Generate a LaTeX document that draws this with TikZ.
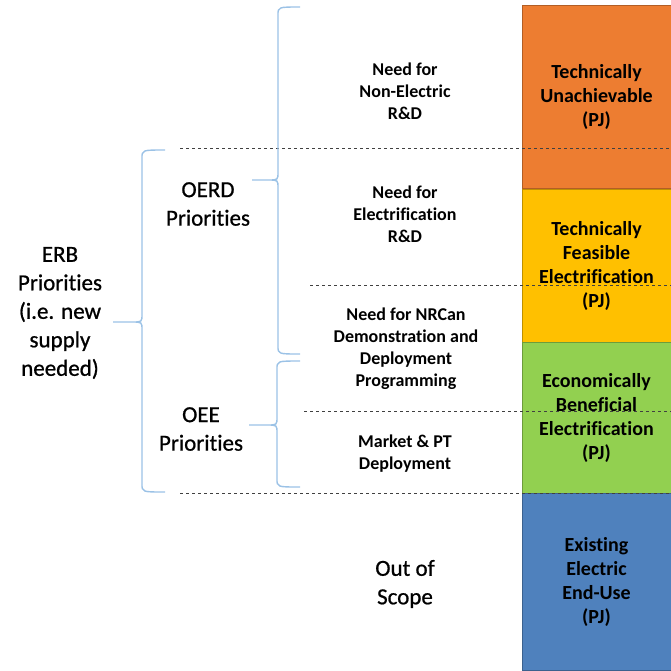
\documentclass[tikz,border=0pt]{standalone}
\usepackage{fontspec}
\setmainfont[Ligatures=NoCommon]{Carlito}
\newfontfamily\grpfont[Ligatures=NoCommon,FakeBold=0.8]{Carlito}
\usetikzlibrary{calc}
\definecolor{unach}{HTML}{ED7D31}
\definecolor{feasible}{HTML}{FFC000}
\definecolor{benefit}{HTML}{92D050}
\definecolor{existing}{HTML}{4F81BD}
\definecolor{bracecol}{HTML}{9BC2E6}
\tikzset{band box/.style={
    minimum width=149pt,draw=#1!75!black,fill=#1,line width=.8pt,
    align=center,font=\bfseries\fontsize{20}{24}\selectfont,inner sep=0pt}}
\tikzset{need text/.style={align=center,font=\bfseries\fontsize{18}{22}\selectfont}}
\tikzset{group text/.style={align=center,font=\grpfont\fontsize{23}{28.5}\selectfont}}
\tikzset{brace line/.style={draw=bracecol,line width=1.4pt}}
\tikzset{split line/.style={draw=black!75,dashed,line width=.8pt}}
% #1 x of stem, #2 top, #3 tip y, #4 bottom, #5 tip x, #6 end x
\newcommand\prioritybrace[6]{%
  \draw[brace line] (#6,#2) .. controls (#1,#2) .. (#1,#2+8)
    -- (#1,#3-8) .. controls (#1,#3) .. (#1-10,#3) -- (#5,#3)
    -- (#1-10,#3) .. controls (#1,#3) .. (#1,#3+8)
    -- (#1,#4-8) .. controls (#1,#4) .. (#6,#4);}

\begin{document}
\begin{tikzpicture}[x=1pt,y=-1pt]
  \path[use as bounding box] (0,0) rectangle (671,670);
  % energy bands
  \node[band box=unach,minimum height=183pt] (unach) at (596.5,96.5)
    {Technically\\Unachievable\\(PJ)};
  \node[band box=feasible,minimum height=153pt] (feasible) at (596.5,265.5)
    {Technically\\Feasible\\Electrification\\(PJ)};
  \node[band box=benefit,minimum height=151pt] (benefit) at (596.5,417.5)
    {Economically\\Beneficial\\Electrification\\(PJ)};
  \node[band box=existing,minimum height=177pt] (existing) at (596.5,581.5)
    {Existing\\Electric\\End-Use\\(PJ)};
  % dashed splits
  \draw[split line] (180,148) -- (671,148);
  \draw[split line] (310,285) -- (671,285);
  \draw[split line] (304,411) -- (671,411);
  \draw[split line] (180,493) -- (671,493);
  % braces
  \prioritybrace{278}{7}{180}{354}{252}{300}
  \prioritybrace{277}{361}{425}{487}{249}{300}
  \prioritybrace{142}{150}{322}{492}{113}{165}
  % labels
  \node[group text] (erb) at (60,313)
    {ERB\\Priorities\\(i.e. new\\supply\\needed)};
  \node[group text] (oerd) at (208,204) {OERD\\Priorities};
  \node[group text] (oee) at (201,429) {OEE\\Priorities};
  \node[need text] (nonel) at (405,91) {Need for\\Non-Electric\\R\&D};
  \node[need text] (elec) at (405,214) {Need for\\Electrification\\R\&D};
  \node[need text] (demo) at (406,349)
    {Need for NRCan\\Demonstration and\\Deployment\\Programming};
  \node[need text] (market) at (405,454) {Market \& PT\\Deployment};
  \node[group text] (scope) at (405,584) {Out of\\Scope};
\end{tikzpicture}
\end{document}
